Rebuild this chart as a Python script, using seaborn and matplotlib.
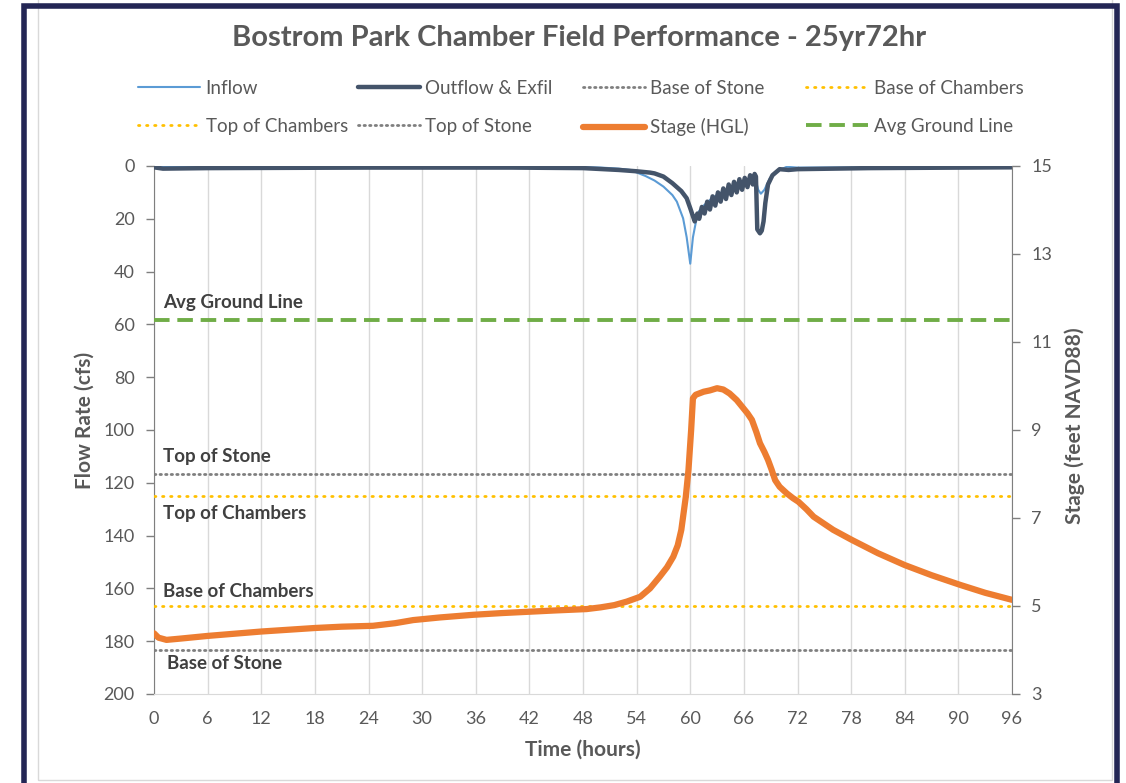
import numpy as np
import pandas as pd
import seaborn as sns
import matplotlib.pyplot as plt
from matplotlib.patches import Rectangle
from matplotlib.lines import Line2D

# ---- data ----
flow_hours = [0, 1, 6, 24, 40, 48, 52, 54, 55.5, 56, 57, 58, 59, 59.6, 60, 60.3, 60.5,
              60.8, 61.0, 61.3, 61.6, 61.9, 62.2, 62.5, 62.8, 63.1, 63.4, 63.7, 64.0,
              64.3, 64.6, 64.9, 65.2, 65.5, 65.8, 66.1, 66.4, 66.7, 67.0, 67.2, 67.35,
              67.5, 67.8, 68.0, 68.2, 68.4, 68.7, 69.2, 70, 71, 72, 80, 96]
outflow = [0.5, 1.0, 0.8, 0.6, 0.6, 0.8, 1.5, 2.0, 2.5, 2.8, 4.0, 6.5, 9.5, 12.2, 16, 19,
           21, 18, 20, 15.5, 18, 13.5, 16.5, 11.5, 15, 10, 13.5, 8.5, 12.5, 7, 11, 6, 10,
           5, 9, 4.5, 8, 3.5, 7, 3, 4, 24, 25.5, 24.5, 21, 14, 7, 3.5, 1.2, 1.5, 1.2,
           0.8, 0.5]

inflow_hours = [0, 48, 50, 52, 53.3, 55, 56, 57, 58, 58.5, 59.2, 59.6, 60, 60.3, 60.7,
                61, 61.5, 62.5, 63.5, 64.5, 65.5, 66.5, 67.3, 67.6, 67.9, 68.3, 68.9,
                69.5, 70, 70.8, 72, 80, 96]
inflow = [0.3, 0.4, 0.6, 1.0, 1.5, 3.8, 5.5, 7.8, 11, 13.5, 19.8, 27, 37, 27, 20, 17,
          15, 12, 10, 8, 6, 5, 5, 9, 10.5, 9, 4.7, 2.5, 1.5, 0.3, 0.6, 0.5, 0.3]

stage_hours = [0, 0.5, 1.4, 3, 6, 9, 12, 15, 18, 21, 24.5, 27, 29, 32, 35.7, 39, 42, 45,
               48.4, 50, 51.5, 52.9, 54.4, 55.5, 56.6, 57.4, 58.1, 58.6, 59.0, 59.5, 59.8,
               60.1, 60.3, 60.6, 61.5, 62.2, 63.0, 63.7, 64.4, 65.2, 65.8, 66.4, 66.9,
               67.4, 67.8, 68.3, 68.7, 69.1, 69.5, 70.0, 70.8, 71.5, 72.1, 73.0, 73.8,
               76, 78.1, 81, 84, 87, 90.2, 93, 96]
stage = [4.38, 4.28, 4.23, 4.26, 4.32, 4.37, 4.42, 4.46, 4.50, 4.53, 4.55, 4.61, 4.68,
         4.74, 4.80, 4.84, 4.87, 4.90, 4.93, 4.97, 5.02, 5.10, 5.21, 5.40, 5.67, 5.88,
         6.12, 6.38, 6.73, 7.48, 8.09, 9.0, 9.72, 9.80, 9.87, 9.90, 9.95, 9.92, 9.83,
         9.68, 9.53, 9.38, 9.23, 8.95, 8.70, 8.5, 8.32, 8.1, 7.86, 7.71, 7.56, 7.45,
         7.37, 7.2, 7.03, 6.73, 6.50, 6.2, 5.93, 5.70, 5.48, 5.30, 5.14]

# reference elevations (feet NAVD88)
base_of_stone = 4.0
base_of_chambers = 5.0
top_of_chambers = 7.5
top_of_stone = 8.0
avg_ground = 11.5

x_ticks = list(range(0, 97, 6))
flow_ticks = list(range(0, 201, 20))
stage_ticks = [3, 5, 7, 9, 11, 13, 15]

# ---- style ----
sns.set_style("white")
plt.rcParams['font.family'] = ['Lato', 'DejaVu Sans']
txt = '#595959'
dark = '#404040'
c_in, c_out, c_stage = '#5B9BD5', '#44546A', '#ED7D31'
c_gray, c_yel, c_green = '#7F7F7F', '#FFC000', '#70AD47'

fig = plt.figure(figsize=(11.26, 7.83), dpi=100)
ax = fig.add_axes([154/1126, 89/783, 858/1126, 528/783])
ax2 = ax.twinx()

# flows on the left (inverted) axis
sns.lineplot(x=inflow_hours, y=inflow, ax=ax, color=c_in, linewidth=1.5, zorder=3)
sns.lineplot(x=flow_hours, y=outflow, ax=ax, color=c_out, linewidth=3.2, zorder=4)

# reference lines + stage on the right axis
dot_g = dict(linestyle=(0, (0.5, 1.5)), dash_capstyle='round')
dot_y = dict(linestyle=(0, (0.5, 2.4)), dash_capstyle='round')
ax2.axhline(base_of_stone, color=c_gray, linewidth=2, **dot_g)
ax2.axhline(base_of_chambers, color=c_yel, linewidth=2, **dot_y)
ax2.axhline(top_of_chambers, color=c_yel, linewidth=2, **dot_y)
ax2.axhline(top_of_stone, color=c_gray, linewidth=2, **dot_g)
ax2.axhline(avg_ground, color=c_green, linewidth=2.8, linestyle=(0, (4, 2)))
sns.lineplot(x=stage_hours, y=stage, ax=ax2, color=c_stage, linewidth=4.5, zorder=5)

# labels on the reference lines
lab = dict(fontsize=13.5, fontweight='bold', color=dark, ha='left', va='center')
ax2.text(1.0, 11.89, 'Avg Ground Line', **lab)
ax2.text(1.0, 8.39, 'Top of Stone', **lab)
ax2.text(1.0, 7.11, 'Top of Chambers', **lab)
ax2.text(1.0, 5.34, 'Base of Chambers', **lab)
ax2.text(1.5, 3.70, 'Base of Stone', **lab)

# axes
ax.set_xlim(0, 96)
ax.set_ylim(200, 0)
ax2.set_ylim(3, 15)
ax.set_xticks(x_ticks)
ax.set_yticks(flow_ticks)
ax2.set_yticks(stage_ticks)
ax.grid(axis='x', color='#D9D9D9', linewidth=1)
ax.grid(axis='y', visible=False)
ax2.grid(False)
ax.tick_params(axis='x', length=0, pad=12, labelsize=13, labelcolor=txt)
ax.tick_params(axis='y', length=6, width=1, color=c_gray, pad=8, labelsize=13, labelcolor=txt)
ax2.tick_params(axis='y', length=6, width=1, color=c_gray, pad=8, labelsize=13, labelcolor=txt)
ax.set_xlabel('')
ax.set_ylabel('')
ax2.set_ylabel('')
for a in (ax, ax2):
    a.spines['top'].set_visible(False)
ax.spines['left'].set_color(c_gray)
ax.spines['bottom'].set_color('#D9D9D9')
ax.spines['right'].set_visible(False)
ax2.spines['left'].set_visible(False)
ax2.spines['bottom'].set_visible(False)
ax2.spines['right'].set_color(c_gray)

fig.text(85/1126, 1 - 420/783, 'Flow Rate (cfs)', rotation=90, ha='center', va='center',
         fontsize=15, fontweight='bold', color=txt)
fig.text(1075/1126, 1 - 426/783, 'Stage (feet NAVD88)', rotation=90, ha='center', va='center',
         fontsize=15, fontweight='bold', color=txt)
fig.text(583/1126, 1 - 750/783, 'Time (hours)', ha='center', va='center',
         fontsize=15, fontweight='bold', color=txt)
fig.text(579/1126, 1 - 38/783, 'Bostrom Park Chamber Field Performance - 25yr72hr',
         ha='center', va='center', fontsize=21, fontweight='bold', color=txt)

# legend, four columns of two rows
def h(color, lw, **kw):
    return Line2D([0], [0], color=color, linewidth=lw, **kw)

cols = [
    (138, [h(c_in, 1.5), h(c_yel, 2, **dot_y)], ['Inflow', 'Top of Chambers']),
    (358, [h(c_out, 3.2), h(c_gray, 2, **dot_g)], ['Outflow & Exfil', 'Top of Stone']),
    (583, [h(c_gray, 2, **dot_g), h(c_stage, 4.5)], ['Base of Stone', 'Stage (HGL)']),
    (806, [h(c_yel, 2, **dot_y), h(c_green, 2.8, linestyle=(0, (4, 2)))],
     ['Base of Chambers', 'Avg Ground Line']),
]
for x0, hs, ls in cols:
    leg = fig.legend(hs, ls, loc='upper left', bbox_to_anchor=(x0/1126, 1 - 80/783),
                     frameon=False, borderpad=0, borderaxespad=0, handlelength=3.3,
                     handletextpad=0.3, labelspacing=1.12, fontsize=13.5)
    for t in leg.get_texts():
        t.set_color(txt)

# frame around the picture
fig.patches.append(Rectangle((23.5/1126, -0.05), (1117 - 23.5)/1126, 1.05 - 6.5/783,
                             transform=fig.transFigure, fill=False, edgecolor='#232655',
                             linewidth=4, zorder=10))
fig.patches.append(Rectangle((38.5/1126, 3/783), (1112 - 38.5)/1126, 1.2,
                             transform=fig.transFigure, fill=False, edgecolor='#D9D9D9',
                             linewidth=1, zorder=9))

plt.savefig('out.png', dpi=100)
